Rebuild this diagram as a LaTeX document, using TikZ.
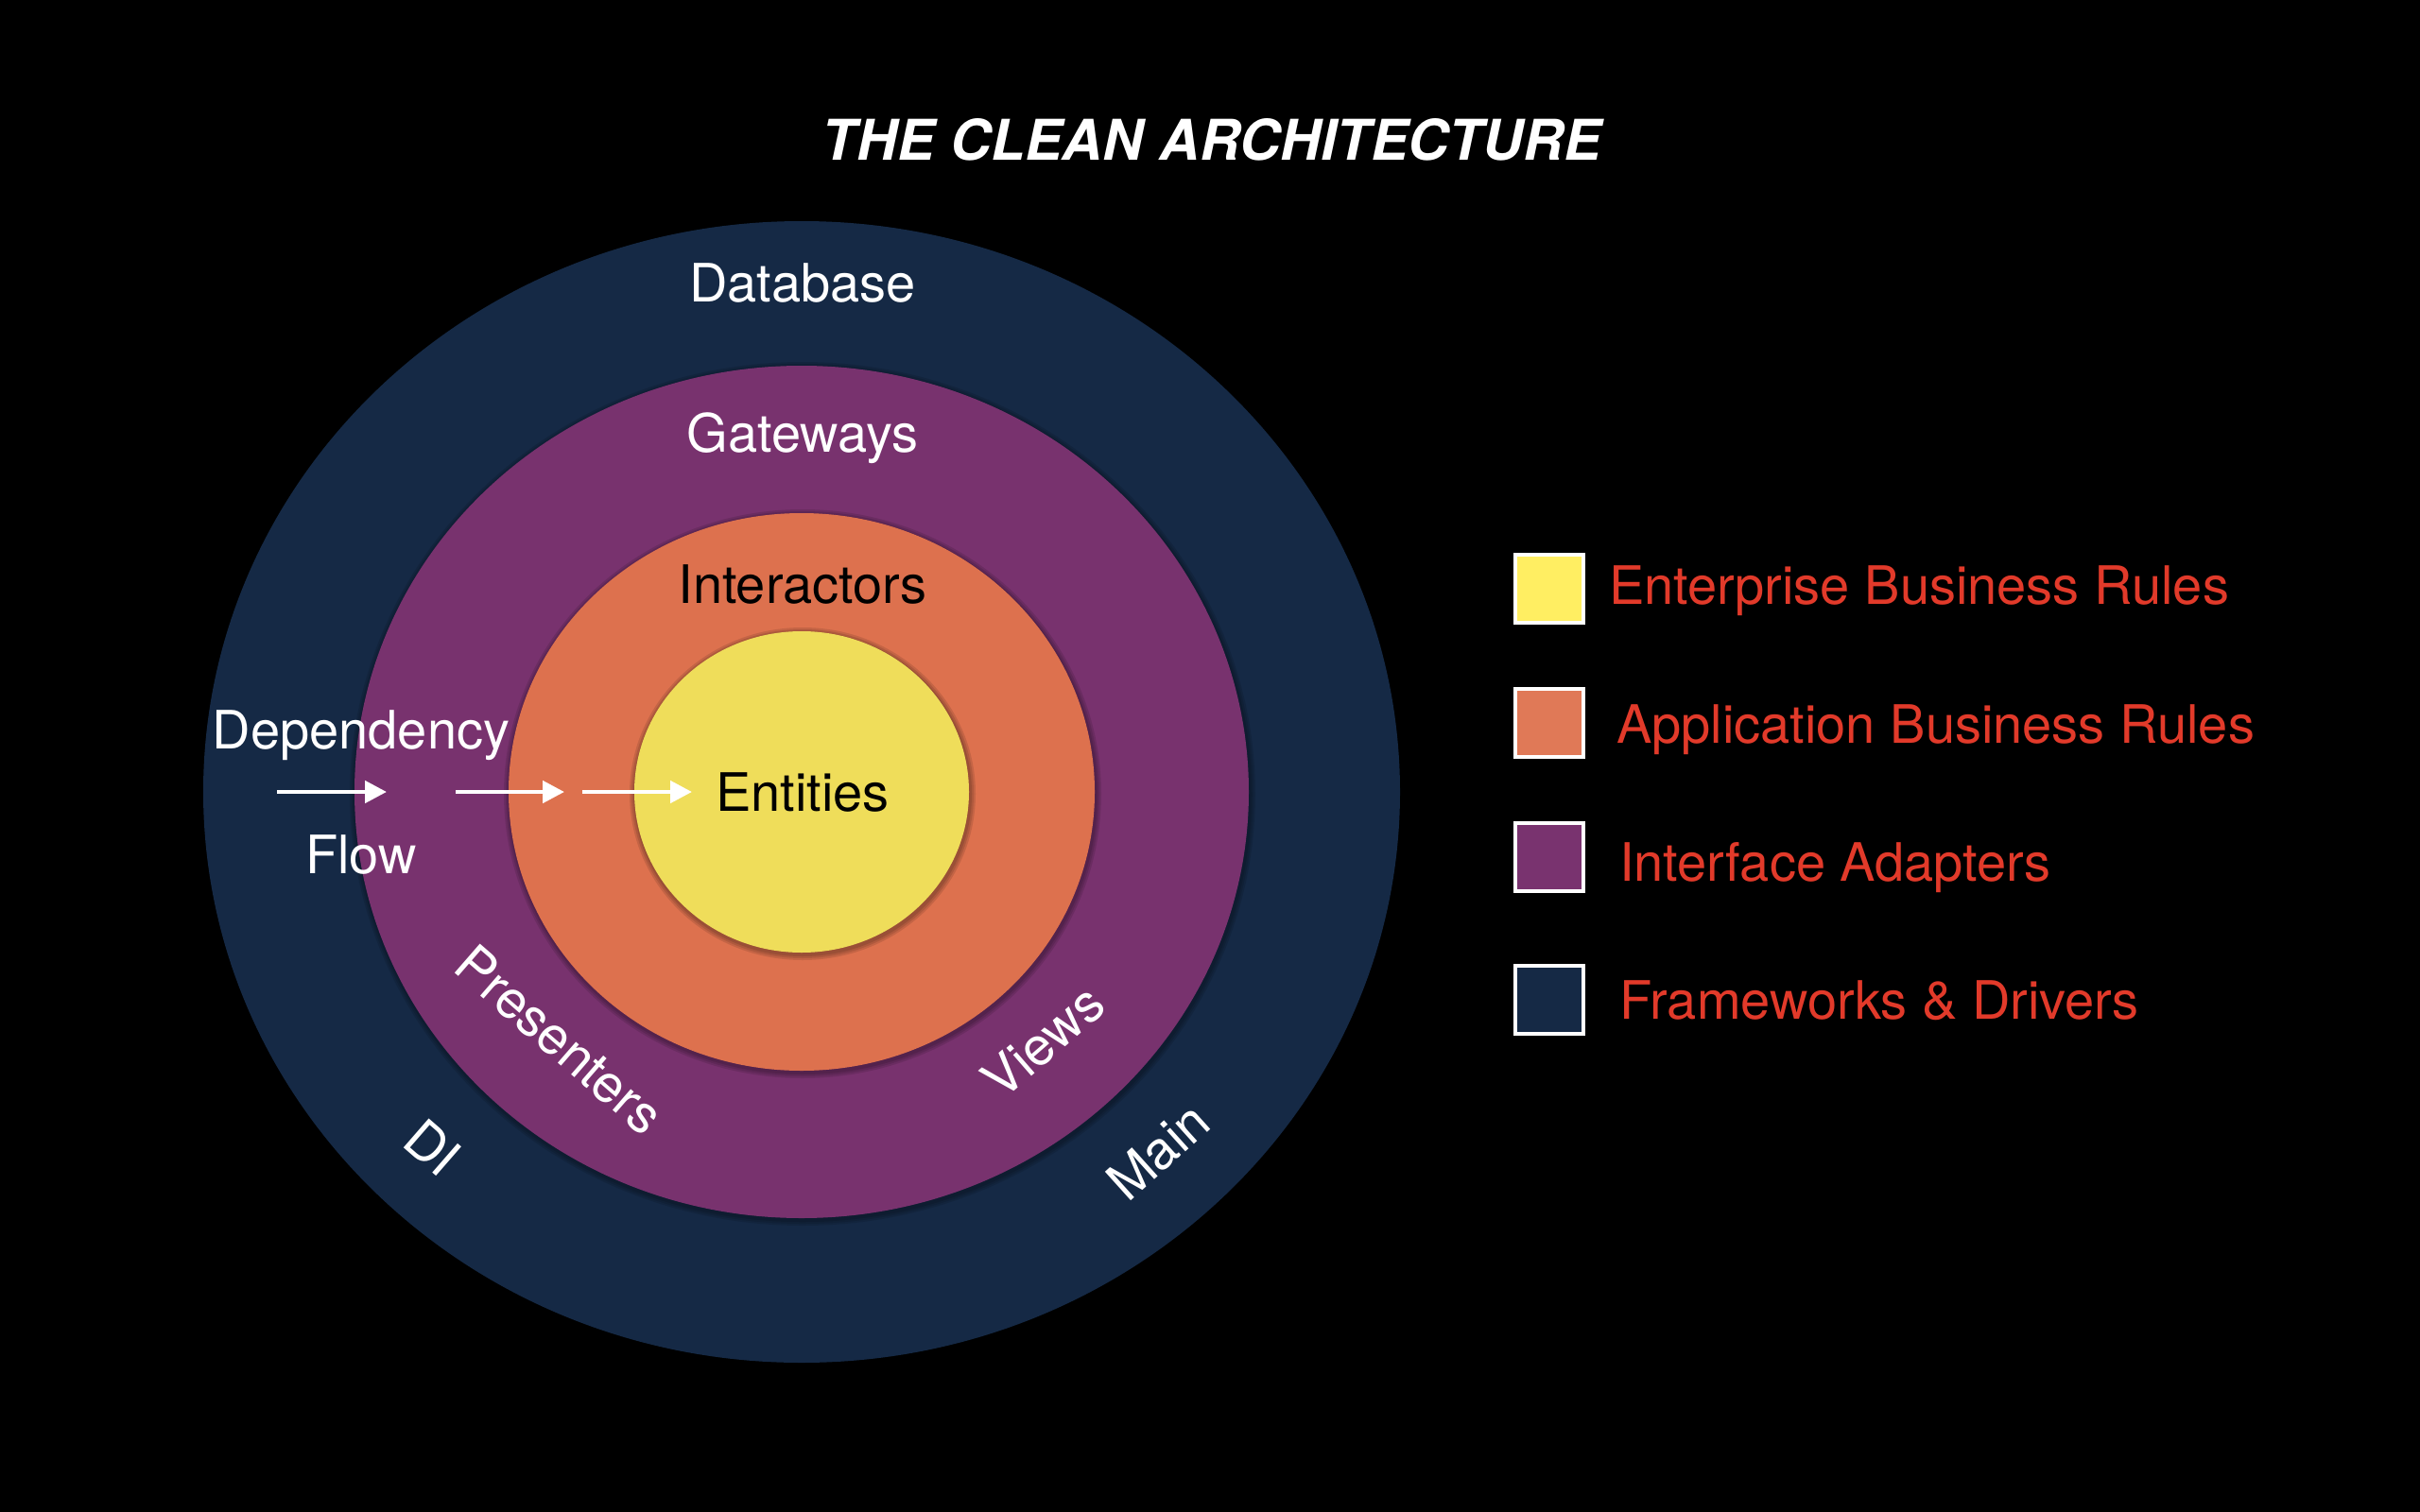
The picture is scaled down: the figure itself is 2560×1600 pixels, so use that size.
\documentclass[tikz,border=0pt]{standalone}
\usepackage{fontspec}
\setmainfont{TeX Gyre Heros}
\usetikzlibrary{arrows.meta,calc}

\definecolor{navy}{RGB}{21,41,69}
\definecolor{plum}{RGB}{120,50,110}
\definecolor{clay}{RGB}{221,113,78}
\definecolor{sand}{RGB}{239,221,90}
\definecolor{keyyellow}{RGB}{255,238,98}
\definecolor{keyorange}{RGB}{224,121,87}
\definecolor{keyplum}{RGB}{121,51,111}
\definecolor{keynavy}{RGB}{21,41,69}
\definecolor{keyred}{RGB}{226,58,42}

\tikzset{
  x=1pt, y=-1pt,
  lbl/.style={inner sep=0pt, font=\fontsize{56}{67}\selectfont},
  whitelbl/.style={lbl, text=white},
  blacklbl/.style={lbl, text=black},
  keybox/.style={draw=white, line width=4pt, minimum size=72pt, inner sep=0pt},
  keytext/.style={lbl, text=keyred, anchor=base west},
  flow/.style={draw=white, line width=4.8pt,
    -{Triangle[length=23pt, width=23pt]}},
  ringshade/.style={fill=black, fill opacity=0.11}
}

\begin{document}
\begin{tikzpicture}
  % canvas
  \fill[black] (0,0) rectangle (2560,1600);
  \useasboundingbox (0,0) rectangle (2560,1600);

  \coordinate (c) at (848,838);
  \coordinate (cs) at (849,840);

  % layers, outermost first, each inner one with a soft shadow
  \fill[navy] (c) ellipse [x radius=633pt, y radius=604pt];

  \foreach \d in {2,4,6}
    \fill[ringshade] (cs) ellipse [x radius=473pt+\d pt, y radius=451pt+\d pt];
  \fill[plum] (c) ellipse [x radius=473pt, y radius=451pt];

  \foreach \d in {2,4,6}
    \fill[ringshade] (cs) ellipse [x radius=310pt+\d pt, y radius=295pt+\d pt];
  \fill[clay] (c) ellipse [x radius=310pt, y radius=295pt];

  \foreach \d in {2,4,6}
    \fill[ringshade] (cs) ellipse [x radius=177pt+\d pt, y radius=170pt+\d pt];
  \fill[sand] (c) ellipse [x radius=177pt, y radius=170pt];

  % title
  \node[inner sep=0pt, text=white, anchor=base,
        font=\fontsize{59.4}{71}\selectfont\bfseries\itshape] (title)
        at (1282,170) {THE CLEAN ARCHITECTURE};

  % layer labels
  \node[whitelbl, anchor=base] (database) at (849,319) {Database};
  \node[whitelbl, anchor=base] (gateways) at (849,478) {Gateways};
  \node[blacklbl, anchor=base] (interactors) at (849,638) {Interactors};
  \node[blacklbl, anchor=base] (entities) at (849,858) {Entities};

  \node[whitelbl, rotate=-41] (presenters) at (592,1100) {Presenters};
  \node[whitelbl, rotate=-41] (di) at (458,1214) {DI};
  \node[whitelbl, rotate=41] (views) at (1103,1102) {Views};
  \node[whitelbl, rotate=42] (main) at (1225,1218) {Main};

  % dependency flow
  \node[whitelbl, anchor=base] (dependency) at (382,792) {Dependency};
  \node[whitelbl, anchor=base] (flowlbl) at (382,924) {Flow};

  \coordinate (a1s) at (293,838);
  \coordinate (a1e) at (409,838);
  \coordinate (a2s) at (482,838);
  \coordinate (a2e) at (597,838);
  \coordinate (a3s) at (616,838);
  \coordinate (a3e) at (732,838);
  \draw[flow] (a1s) -- (a1e);
  \draw[flow] (a2s) -- (a2e);
  \draw[flow] (a3s) -- (a3e);

  % legend
  \node[keybox, fill=keyyellow] (k1) at (1639,623) {};
  \node[keybox, fill=keyorange] (k2) at (1639,765) {};
  \node[keybox, fill=keyplum]   (k3) at (1639,907) {};
  \node[keybox, fill=keynavy]   (k4) at (1639,1058) {};

  \node[keytext] (t1) at (1702,639) {Enterprise Business Rules};
  \node[keytext] (t2) at (1710,786) {Application Business Rules};
  \node[keytext] (t3) at (1713,932) {Interface Adapters};
  \node[keytext] (t4) at (1713,1078) {Frameworks \& Drivers};
\end{tikzpicture}
\end{document}
